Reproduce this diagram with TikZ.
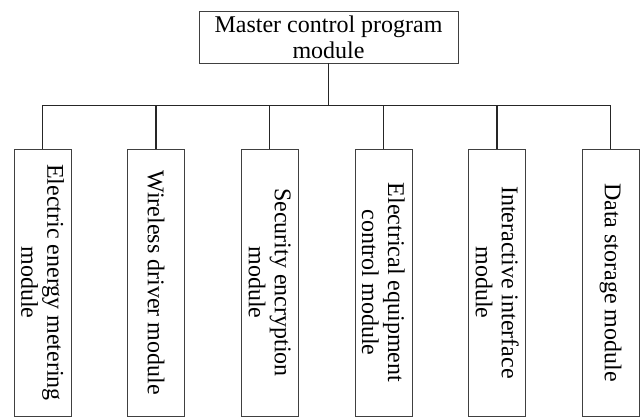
\documentclass[tikz,border=0pt]{standalone}
\usepackage{fontspec}
\setmainfont{Liberation Serif}
\usepackage{tikz}
\usetikzlibrary{positioning}
\tikzset{
    master/.style = {draw=black!75, line width=0.8pt, inner sep=0pt,
                 minimum width=259pt, minimum height=52pt, align=center,
                 font=\fontsize{24}{26}\selectfont},
    sub/.style = {draw=black!75, line width=0.8pt, inner sep=0pt, rotate=-90,
                 minimum width=267pt, minimum height=57pt, align=center,
                 font=\fontsize{24}{26}\selectfont},
    link/.style = {draw=black!85, line width=1.3pt},
}

\begin{document}
\begin{tikzpicture}[x=1pt,y=1pt]
\useasboundingbox (0,0) rectangle (644,-418);
\node (mcp) [master] at (328.5,-37) {Master control program\\module};
\coordinate (bus) at (328.5,-105.7);
\node (em) [sub] at (42.5,-282.5) {Electric energy metering\\module};
\node (wd) [sub] at (156.1,-282.5) {Wireless driver module};
\node (se) [sub] at (269.8,-282.5) {Security encryption\\module};
\node (ec) [sub] at (383.4,-282.5) {Electrical equipment\\control module};
\node (ii) [sub] at (497.1,-282.5) {Interactive interface\\module};
\node (ds) [sub] at (610.7,-282.5) {Data storage module};
\draw[link] (mcp.south) to (mcp.south |- bus);
\draw[link] (em.west) -- (em.west |- bus) -- (ds.west |- bus) -- (ds.west);
\draw[link] (wd.west) to (wd.west |- bus);
\draw[link] (se.west) to (se.west |- bus);
\draw[link] (ec.west) to (ec.west |- bus);
\draw[link] (ii.west) to (ii.west |- bus);
\end{tikzpicture}
\end{document}
